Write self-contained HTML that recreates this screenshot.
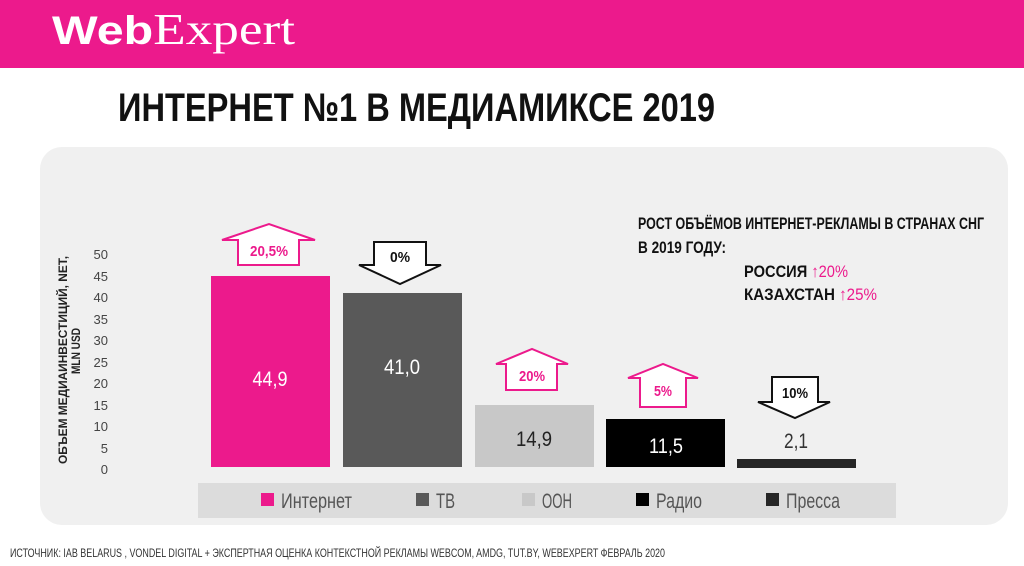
<!DOCTYPE html>
<html><head><meta charset="utf-8"><style>
html,body{margin:0;padding:0;background:#fff;}
svg{display:block}
text{font-family:"Liberation Sans Narrow","Liberation Sans","DejaVu Sans Condensed",sans-serif;}
</style></head><body>
<svg width="1024" height="566" viewBox="0 0 1024 566" xmlns="http://www.w3.org/2000/svg">
<rect x="0" y="0" width="1024" height="68" fill="#ec1a8c"/>
<text x="52" y="44" font-size="44" fill="#fff" textLength="243" lengthAdjust="spacingAndGlyphs" style="font-family:'Liberation Serif',serif"><tspan font-weight="bold" style="font-family:'Liberation Sans',sans-serif" font-size="40">Web</tspan>Expert</text>
<text x="118" y="121" font-size="40" font-weight="bold" fill="#111" textLength="597" lengthAdjust="spacingAndGlyphs">ИНТЕРНЕТ №1  В  МЕДИАМИКСЕ  2019</text>
<rect x="40" y="147" width="968" height="378" rx="22" fill="#f0f0f0"/>
<rect x="198" y="483" width="698" height="35" fill="#dcdcdc"/>
<g font-size="13" fill="#444" text-anchor="end">
<text x="108" y="259">50</text><text x="108" y="281">45</text><text x="108" y="302">40</text>
<text x="108" y="324">35</text><text x="108" y="345">30</text><text x="108" y="367">25</text>
<text x="108" y="388">20</text><text x="108" y="410">15</text><text x="108" y="431">10</text>
<text x="108" y="453">5</text><text x="108" y="474">0</text>
</g>
<g font-size="12" fill="#222" font-weight="bold" text-anchor="middle">
<text transform="translate(67 360) rotate(-90)" textLength="208" lengthAdjust="spacingAndGlyphs">ОБЪЕМ МЕДИАИНВЕСТИЦИЙ, NET,</text>
<text transform="translate(80 351) rotate(-90)" textLength="46" lengthAdjust="spacingAndGlyphs">MLN USD</text>
</g>
<rect x="211" y="276" width="119" height="191" fill="#ec1a8c"/>
<rect x="343" y="293" width="119" height="174" fill="#595959"/>
<rect x="475" y="405" width="119" height="62" fill="#c8c8c8"/>
<rect x="606" y="419" width="119" height="48" fill="#000"/>
<rect x="737" y="459" width="119" height="9" fill="#262626"/>
<g font-size="21" text-anchor="middle">
<text x="270" y="386" fill="#fff" textLength="35" lengthAdjust="spacingAndGlyphs">44,9</text>
<text x="402" y="374" fill="#fff" textLength="36" lengthAdjust="spacingAndGlyphs">41,0</text>
<text x="534" y="446" fill="#222" textLength="36" lengthAdjust="spacingAndGlyphs">14,9</text>
<text x="666" y="453" fill="#fff" textLength="34" lengthAdjust="spacingAndGlyphs">11,5</text>
<text x="796" y="448" fill="#333" textLength="24" lengthAdjust="spacingAndGlyphs">2,1</text>
</g>
<g stroke-width="2" fill="#fff">
<polygon points="238,265 238,240 222,240 269,224 315,240 299,240 299,265" stroke="#ec1a8c"/>
<polygon points="374,242 426,242 426,265 441,265 400,284 359,265 374,265" stroke="#111"/>
<polygon points="506,390 506,364 496,364 532,349 568,364 557,364 557,390" stroke="#ec1a8c"/>
<polygon points="640,407 640,378 628,378 663,364 698,378 686,378 686,407" stroke="#ec1a8c"/>
<polygon points="772,377 818,377 818,402 830,402 795,418 758,402 772,402" stroke="#111"/>
</g>
<g font-size="15" font-weight="bold" text-anchor="middle">
<text x="269" y="256" fill="#ec1a8c" textLength="38" lengthAdjust="spacingAndGlyphs">20,5%</text>
<text x="400" y="262" fill="#111" textLength="20" lengthAdjust="spacingAndGlyphs">0%</text>
<text x="532" y="381" fill="#ec1a8c" textLength="26" lengthAdjust="spacingAndGlyphs">20%</text>
<text x="663" y="396" fill="#ec1a8c" textLength="18" lengthAdjust="spacingAndGlyphs">5%</text>
<text x="795" y="398" fill="#111" textLength="26" lengthAdjust="spacingAndGlyphs">10%</text>
</g>
<g font-size="21" fill="#555">
<rect x="261" y="493" width="13" height="13" fill="#ec1a8c"/><text x="281" y="508" textLength="71" lengthAdjust="spacingAndGlyphs">Интернет</text>
<rect x="416" y="493" width="13" height="13" fill="#595959"/><text x="436" y="508" textLength="19" lengthAdjust="spacingAndGlyphs">ТВ</text>
<rect x="522" y="493" width="13" height="13" fill="#c8c8c8"/><text x="542" y="508" textLength="30" lengthAdjust="spacingAndGlyphs">ООН</text>
<rect x="636" y="493" width="13" height="13" fill="#000"/><text x="656" y="508" textLength="46" lengthAdjust="spacingAndGlyphs">Радио</text>
<rect x="766" y="493" width="13" height="13" fill="#262626"/><text x="786" y="508" textLength="54" lengthAdjust="spacingAndGlyphs">Пресса</text>
</g>
<g font-size="17" font-weight="bold" fill="#111">
<text x="638" y="229" textLength="346" lengthAdjust="spacingAndGlyphs">РОСТ ОБЪЁМОВ ИНТЕРНЕТ-РЕКЛАМЫ В СТРАНАХ СНГ</text>
<text x="638" y="253" textLength="88" lengthAdjust="spacingAndGlyphs">В 2019 ГОДУ:</text>
<text x="744" y="277" textLength="104" lengthAdjust="spacingAndGlyphs">РОССИЯ <tspan fill="#ec1a8c" font-weight="normal">↑20%</tspan></text>
<text x="744" y="300" textLength="133" lengthAdjust="spacingAndGlyphs">КАЗАХСТАН <tspan fill="#ec1a8c" font-weight="normal">↑25%</tspan></text>
</g>
<text x="10" y="557" font-size="12" fill="#333" textLength="655" lengthAdjust="spacingAndGlyphs">ИСТОЧНИК: IAB BELARUS , VONDEL DIGITAL + ЭКСПЕРТНАЯ ОЦЕНКА  КОНТЕКСТНОЙ РЕКЛАМЫ   WEBCOM,  AMDG, TUT.BY, WEBEXPERT  ФЕВРАЛЬ 2020</text>
</svg>
</body></html>
